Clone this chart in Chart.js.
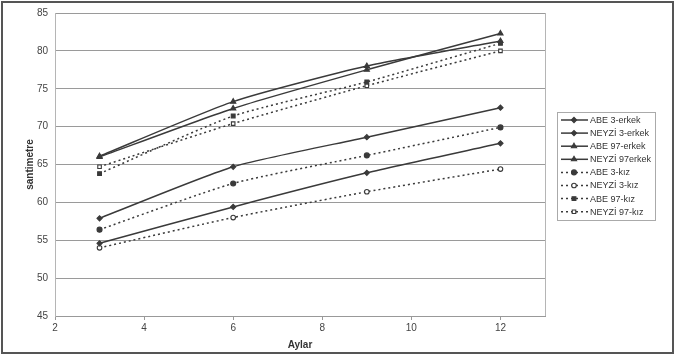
<!DOCTYPE html>
<html>
<head>
<meta charset="utf-8">
<script src="https://cdn.jsdelivr.net/npm/chart.js@4/dist/chart.umd.min.js"></script>
<style>
  body { margin: 0; background: #fff; }
  #wrap { width: 679px; height: 360px; }
</style>
</head>
<body>
<div id="wrap"><canvas id="c" width="679" height="360"></canvas></div>
<script>
const months = [3, 6, 9, 12];
const seriesNames = ['ABE 3-erkek', 'NEYZİ 3-erkek', 'ABE 97-erkek', 'NEYZİ 97erkek',
                     'ABE 3-kız', 'NEYZİ 3-kız', 'ABE 97-kız', 'NEYZİ 97-kız'];
const abe3Erkek   = [57.9, 64.7, 68.6, 72.5];
const neyzi3Erkek = [54.6, 59.4, 63.9, 67.8];
const abe97Erkek  = [66.0, 72.4, 77.5, 82.3];
const neyzi97Erkek= [66.1, 73.3, 78.0, 81.3];
const abe3Kiz     = [56.4, 62.5, 66.2, 69.9];
const neyzi3Kiz   = [54.0, 58.0, 61.4, 64.4];
const abe97Kiz    = [63.8, 71.4, 75.9, 81.0];
const neyzi97Kiz  = [64.7, 70.4, 75.4, 80.0];
const yTicks = [45, 50, 55, 60, 65, 70, 75, 80, 85];
const xTicks = [2, 4, 6, 8, 10, 12];

const ink = '#3a3a3a';
const font = 'Liberation Sans, Arial, sans-serif';

function pts(vals) { return months.map((m, i) => ({ x: m, y: vals[i] })); }

function ds(label, vals, style, dotted, open, radius) {
  return {
    label: label,
    data: pts(vals),
    borderColor: ink,
    borderWidth: 1.5,
    borderDash: dotted ? [2, 3] : [],
    pointStyle: style,
    pointRadius: radius,
    pointBorderColor: ink,
    pointBorderWidth: 1.1,
    pointBackgroundColor: open ? '#fff' : ink,
    tension: 0.2,
    fill: false
  };
}

const datasets = [
  ds(seriesNames[0], abe3Erkek, 'rectRot', false, false, 2.6),
  ds(seriesNames[1], neyzi3Erkek, 'rectRot', false, false, 2.6),
  ds(seriesNames[2], abe97Erkek, 'triangle', false, false, 3),
  ds(seriesNames[3], neyzi97Erkek, 'triangle', false, false, 3),
  ds(seriesNames[4], abe3Kiz, 'circle', true, false, 2.5),
  ds(seriesNames[5], neyzi3Kiz, 'circle', true, true, 2.3),
  ds(seriesNames[6], abe97Kiz, 'rect', true, false, 2.7),
  ds(seriesNames[7], neyzi97Kiz, 'rect', true, true, 2.5)
];

const frame = {
  id: 'frame',
  beforeDraw(chart) {
    const ctx = chart.ctx, a = chart.chartArea;
    ctx.save();
    ctx.strokeStyle = '#b5b5b5';
    ctx.lineWidth = 1;
    ctx.strokeRect(a.left + 0.5, a.top + 0.5, a.right - a.left, a.bottom - a.top);
    ctx.restore();
  },
  afterDraw(chart) {
    const ctx = chart.ctx;
    ctx.save();
    // outer chart border
    ctx.strokeStyle = '#555';
    ctx.lineWidth = 2;
    ctx.strokeRect(2, 2, 671, 351);
    // legend
    const lx = 557, ly = 112, lw = 98, lh = 108;
    ctx.strokeStyle = '#aaa';
    ctx.lineWidth = 1;
    ctx.strokeRect(lx + 0.5, ly + 0.5, lw, lh);
    chart.data.datasets.forEach((d, i) => {
      const y = 120 + i * 13.1;
      ctx.strokeStyle = d.borderColor;
      ctx.lineWidth = d.borderWidth;
      ctx.setLineDash(d.borderDash);
      ctx.beginPath();
      ctx.moveTo(lx + 4, y);
      ctx.lineTo(lx + 31, y);
      ctx.stroke();
      ctx.setLineDash([]);
      ctx.fillStyle = d.pointBackgroundColor;
      ctx.strokeStyle = d.pointBorderColor;
      ctx.lineWidth = d.pointBorderWidth;
      Chart.helpers.drawPoint(ctx, { pointStyle: d.pointStyle, radius: d.pointRadius, rotation: 0, borderWidth: d.pointBorderWidth }, lx + 17, y);
      ctx.fillStyle = '#333';
      ctx.font = '9px ' + font;
      ctx.textBaseline = 'middle';
      ctx.fillText(d.label, lx + 33, y + 0.5);
    });
    ctx.restore();
  }
};

new Chart(document.getElementById('c'), {
  type: 'line',
  data: { datasets: datasets },
  plugins: [frame],
  options: {
    responsive: false,
    animation: false,
    layout: { padding: { left: 20, right: 134, top: 8, bottom: 8 } },
    plugins: { legend: { display: false }, tooltip: { enabled: false } },
    scales: {
      x: {
        type: 'linear',
        min: 2, max: 13,
        afterBuildTicks(s) { s.ticks = xTicks.map(v => ({ value: v })); },
        afterFit(s) { s.height = 36; },
        grid: { display: true, drawOnChartArea: false, tickLength: 4, color: '#999' },
        border: { color: '#999' },
        ticks: { color: '#444', font: { family: font, size: 10 }, padding: 2 },
        title: { display: true, text: 'Aylar', color: '#333', font: { family: font, size: 10, weight: 'bold' }, padding: { top: 2, bottom: 1 } }
      },
      y: {
        min: 45, max: 85,
        afterBuildTicks(s) { s.ticks = yTicks.map(v => ({ value: v })); },
        afterFit(s) { s.width = 35; },
        grid: { color: '#9a9a9a', lineWidth: 1, drawTicks: false },
        border: { color: '#b5b5b5' },
        ticks: { color: '#444', font: { family: font, size: 10 }, padding: 7 },
        title: { display: true, text: 'santimetre', color: '#333', font: { family: font, size: 10, weight: 'bold' }, padding: { top: 4, bottom: 2 } }
      }
    }
  }
});
</script>
</body>
</html>
